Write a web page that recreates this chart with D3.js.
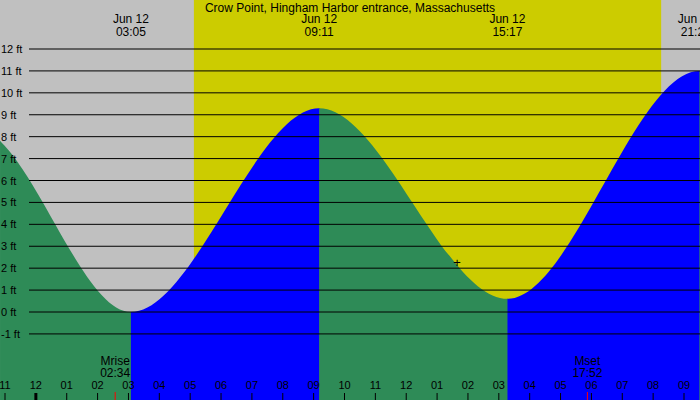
<!DOCTYPE html><html><head><script src="https://cdn.jsdelivr.net/npm/d3@7"></script>
<style>body{margin:0}svg{display:block;font-family:"Liberation Sans",Arial,sans-serif}</style></head><body><script>
const extremeHours=[-3.02,-1.16,3.08,9.18,15.28,21.5,27.6];
const extremeFeet=[9.9,7.8,0.0,9.3,0.6,11.0,0.5];
const yTicks=[-1,0,1,2,3,4,5,6,7,8,9,10,11,12];
const hourTicks=[-1,0,1,2,3,4,5,6,7,8,9,10,11,12,13,14,15,16,17,18,19,20,21];
const headLabels=[{h:3.08,t:"03:05"},{h:9.18,t:"09:11"},{h:15.28,t:"15:17"},{h:21.38,t:"21:23"}];
const daylight=[5.12,20.26];
const moon=[{h:2.57,n:"Mrise",t:"02:34"},{h:17.87,n:"Mset",t:"17:52"}];
const W=700,H=400;
const x=d3.scaleLinear().domain([-1,21]).range([5,684]);
const y=d3.scaleLinear().domain([0,12]).range([312,49]);
const svg=d3.select("body").append("svg").attr("width",W).attr("height",H);
svg.append("rect").attr("width",W).attr("height",H).attr("fill","#c0c0c0");
svg.append("rect").attr("x",x(daylight[0])).attr("width",x(daylight[1])-x(daylight[0])).attr("height",H).attr("fill","#cccc00");
const data=extremeHours.map((h,i)=>({h,v:extremeFeet[i]}));
const area=d3.area().x(d=>x(d.h)).y0(H).y1(d=>y(d.v)).curve(d3.curveMonotoneX);
const defs=svg.append("defs");
for(let i=0;i<data.length-1;i++){
  const rising=data[i+1].v>data[i].v;
  defs.append("clipPath").attr("id","c"+i).append("rect").attr("x",x(data[i].h)).attr("width",x(data[i+1].h)-x(data[i].h)+0.5).attr("y",0).attr("height",H);
  svg.append("path").datum(data).attr("d",area).attr("clip-path","url(#c"+i+")").attr("fill",rising?"#0000ff":"#2e8b57");
}
yTicks.forEach(t=>{
  svg.append("line").attr("x1",29).attr("x2",W).attr("y1",y(t)).attr("y2",y(t)).attr("stroke","#000");
  svg.append("text").attr("x",1).attr("y",y(t)+4).attr("font-size",11).text(t+" ft");
});
svg.append("text").attr("x",350).attr("y",12).attr("text-anchor","middle").attr("font-size",12).text("Crow Point, Hingham Harbor entrance, Massachusetts");
headLabels.forEach(d=>{
  const g=svg.append("g").attr("font-size",12).attr("text-anchor","middle");
  g.append("text").attr("x",x(d.h)).attr("y",23).text("Jun 12");
  g.append("text").attr("x",x(d.h)).attr("y",36).text(d.t);
});
hourTicks.forEach(h=>{
  const lab=String(((h%12)+12)%12||12).padStart(2,"0");
  svg.append("text").attr("x",x(h)).attr("y",389).attr("text-anchor","middle").attr("font-size",11).text(lab);
  svg.append("line").attr("x1",x(h)).attr("x2",x(h)).attr("y1",393).attr("y2",H).attr("stroke","#000").attr("stroke-width",h===0?3:1);
});
moon.forEach(m=>{
  svg.append("text").attr("x",x(m.h)).attr("y",365).attr("text-anchor","middle").attr("font-size",12).text(m.n);
  svg.append("text").attr("x",x(m.h)).attr("y",377).attr("text-anchor","middle").attr("font-size",12).text(m.t);
  svg.append("line").attr("x1",x(m.h)).attr("x2",x(m.h)).attr("y1",392).attr("y2",H).attr("stroke","red");
});
svg.append("text").attr("x",457).attr("y",267).attr("text-anchor","middle").attr("font-size",13).text("+");
</script></body></html>
